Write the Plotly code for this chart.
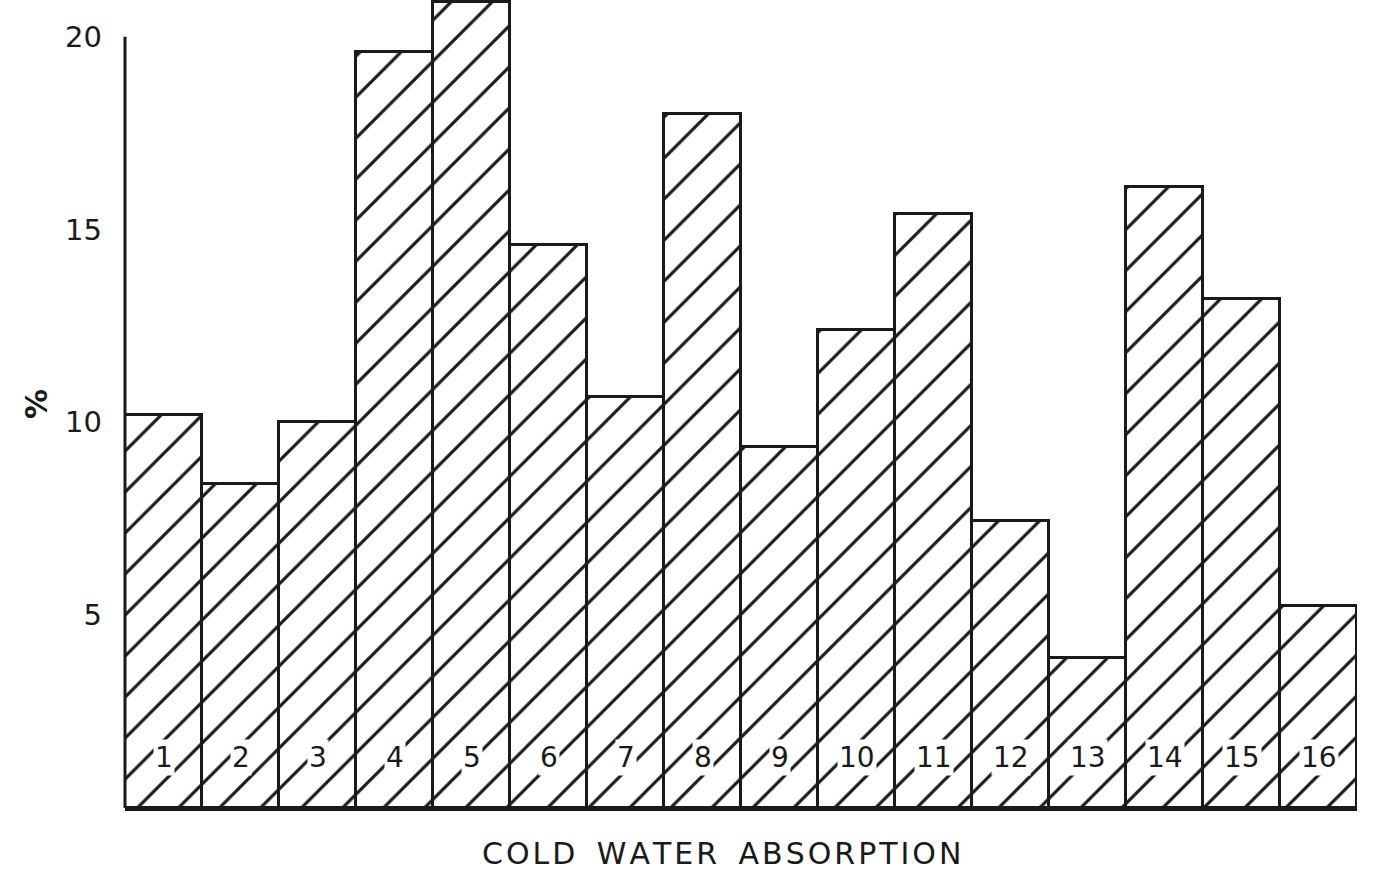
import plotly.graph_objects as go

# Data
categories = [str(i) for i in range(1, 17)]
values = [10.2, 8.4, 10.0, 19.6, 20.9, 14.6, 10.65, 18.0, 9.35, 12.4, 15.4, 7.45, 3.9, 16.1, 13.2, 5.25]
tick_vals = [5, 10, 15, 20]
tick_text = ["5", "10", "15", "20"]
x_title = "COLD WATER ABSORPTION"
y_title = "%"

FONT = "DejaVu Sans"
INK = "#1a1a1a"
LABEL_Y = 1.32

xpos = list(range(1, len(categories) + 1))

fig = go.Figure()
fig.add_trace(go.Bar(
    x=xpos, y=values, width=1,
    marker=dict(
        color="white",
        line=dict(color=INK, width=3),
        pattern=dict(shape="/", fgcolor=INK, bgcolor="white", size=29, solidity=0.11, fillmode="replace"),
    ),
    hoverinfo="skip",
))

annotations = []
for xp, lab in zip(xpos, categories):
    annotations.append(dict(
        x=xp, y=LABEL_Y, xref="x", yref="y", text=lab, showarrow=False,
        font=dict(family=FONT, size=28, color=INK), bgcolor="white", borderpad=1,
    ))
HS = "\u200a"
spaced = " ".join(HS.join(list(w)) for w in x_title.split(" ")).replace(" ", HS * 2 + " " + HS * 2)
annotations.append(dict(
    x=0.484, y=-0.0557, xref="paper", yref="paper", text=spaced, showarrow=False,
    xanchor="center", yanchor="middle",
    font=dict(family=FONT, size=30, color=INK),
))

fig.update_layout(
    width=1376, height=873,
    margin=dict(l=125, r=19, t=0, b=65),
    paper_bgcolor="white", plot_bgcolor="white",
    showlegend=False, bargap=0,
    annotations=annotations,
    xaxis=dict(range=[0.5, 16.5], showticklabels=False, ticks="", showgrid=False, zeroline=False,
               showline=True, linecolor=INK, linewidth=3),
    yaxis=dict(range=[0, 20.95], tickvals=tick_vals, ticktext=tick_text, ticks="", showgrid=False,
               zeroline=False, showline=False, ticklabelstandoff=22,
               tickfont=dict(family=FONT, size=29, color=INK),
               title=dict(text="<b>" + y_title + "</b>", font=dict(family=FONT, size=30, color=INK), standoff=8)),
    shapes=[dict(type="line", xref="paper", yref="y", x0=0, x1=0, y0=0, y1=tick_vals[-1],
                 line=dict(color=INK, width=3))],
)

fig.write_html("out.html", config={"displayModeBar": False},
               post_script="document.body.style.margin='0';document.body.style.overflow='hidden';")
